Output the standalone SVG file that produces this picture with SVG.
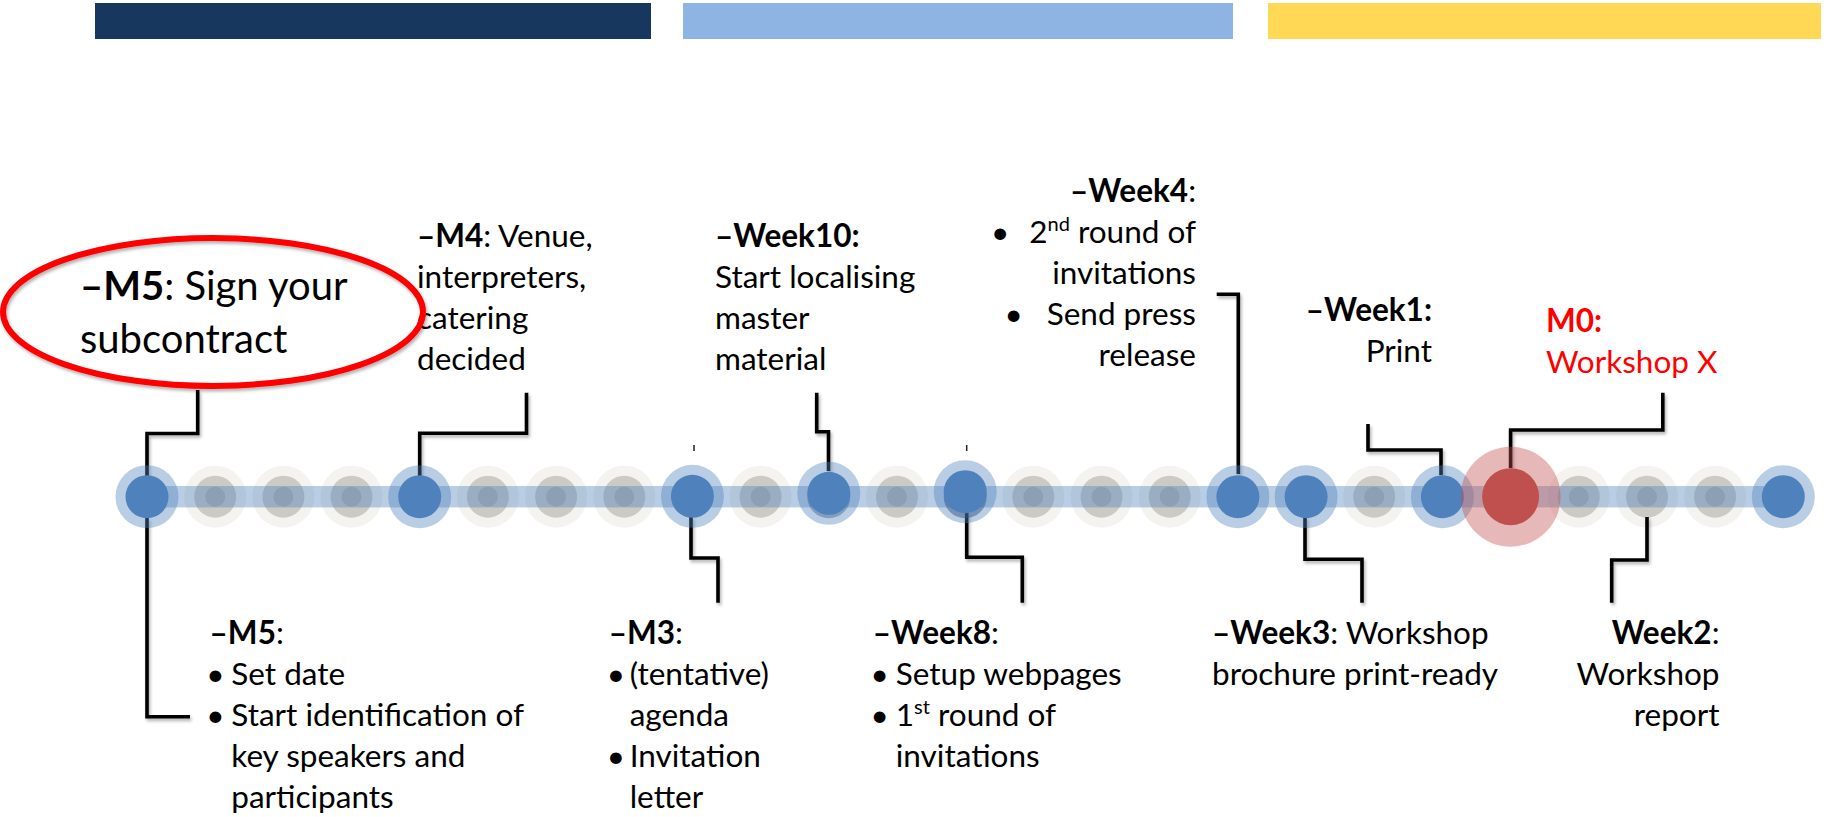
<svg xmlns="http://www.w3.org/2000/svg" width="1824" height="817" viewBox="0 0 1824 817">
  <defs>
    <filter id="soft" x="-20%" y="-20%" width="140%" height="140%">
      <feDropShadow dx="1.5" dy="2.5" stdDeviation="1.6" flood-color="#000" flood-opacity="0.3"/>
    </filter>
    <!-- inactive step on the track -->
    <g id="gdot">
      <circle r="31" fill="#f4f3ef"/>
      <circle r="21" fill="#cccac5"/>
      <circle r="10" fill="#b4b2ad"/>
    </g>
    <!-- milestone dot -->
    <g id="bdot">
      <circle r="31.5" fill="#4f81bd" fill-opacity="0.4"/>
      <circle r="21.5" fill="#4f81bd"/>
    </g>
  </defs>
  <style>
    text { font-family: Lato, "Liberation Sans", sans-serif; font-size: 31.5px; fill: #000; }
    .b { font-weight: 700; }
    .big { font-size: 40px; }
    .red { fill: #ff0000; }
    .end { text-anchor: end; }
    .bul { text-anchor: middle; }
    .sup { font-size: 20px; }
    .wire { fill: none; stroke: #000; stroke-width: 3.6; stroke-linecap: butt; stroke-linejoin: miter; }
    .tick { stroke: #222; stroke-width: 1.5; }
  </style>

  <rect width="1824" height="817" fill="#ffffff"/>

  <!-- phase bars -->
  <g id="phase-bars">
    <rect x="95" y="3" width="556" height="36" fill="#17375e"/>
    <rect x="683" y="3" width="550" height="36" fill="#8eb4e3"/>
    <rect x="1268" y="3" width="553" height="36" fill="#ffd955"/>
  </g>

  <!-- track: inactive steps and the band -->
  <g id="track">
    <use href="#gdot" x="215.2" y="496.7"/>
    <use href="#gdot" x="283.4" y="496.7"/>
    <use href="#gdot" x="351.5" y="496.7"/>
    <use href="#gdot" x="487.9" y="496.7"/>
    <use href="#gdot" x="556.1" y="496.7"/>
    <use href="#gdot" x="624.3" y="496.7"/>
    <use href="#gdot" x="760.6" y="496.7"/>
    <use href="#gdot" x="897" y="496.7"/>
    <use href="#gdot" x="1033.3" y="496.7"/>
    <use href="#gdot" x="1101.5" y="496.7"/>
    <use href="#gdot" x="1169.7" y="496.7"/>
    <use href="#gdot" x="1374.2" y="496.7"/>
    <use href="#gdot" x="1578.8" y="496.7"/>
    <use href="#gdot" x="1647" y="496.7"/>
    <use href="#gdot" x="1715.1" y="496.7"/>
    <rect x="147" y="486" width="1636" height="21.4" fill="#4f81bd" fill-opacity="0.4"/>
  </g>

  <!-- connectors -->
  <g id="connectors" filter="url(#soft)">
    <path class="wire" d="M197.7,390 V433.5 H147 V476"/>
    <path class="wire" d="M147,518 V716.7 H190"/>
    <path class="wire" d="M526.5,392.7 V433.3 H419.7 V476"/>
    <path class="wire" d="M691,517 V558 H718 V602.7"/>
    <path class="wire" d="M816.7,392.7 V431.7 H828.5 V471"/>
    <path class="wire" d="M966.7,513 V557.3 H1022.3 V602.7"/>
    <path class="wire" d="M1216.7,294.3 H1238.3 V474"/>
    <path class="wire" d="M1305,517 V559.3 H1362 V602.7"/>
    <path class="wire" d="M1368,424 V450 H1441 V475"/>
    <path class="wire" d="M1662.8,392.7 V430 H1510.6 V468"/>
    <path class="wire" d="M1647,517 V560 H1611.7 V602.7"/>
  </g>

  <g id="tick-marks">
    <line class="tick" x1="694" y1="445" x2="694" y2="451"/>
    <line class="tick" x1="966.7" y1="445" x2="966.7" y2="451"/>
  </g>

  <!-- milestones -->
  <g id="node-m5">
    <use href="#bdot" x="147" y="496.7"/>
    <text x="209.6" y="644"><tspan class="b">–M5</tspan>:</text>
    <text class="bul" x="215.5" y="685">•</text>
    <text x="231.3" y="685">Set date</text>
    <text class="bul" x="215.5" y="726">•</text>
    <text x="231.3" y="726">Start identification of</text>
    <text x="231.3" y="767">key speakers and</text>
    <text x="231.3" y="808">participants</text>
  </g>

  <g id="node-m4">
    <use href="#bdot" x="419.7" y="496.7"/>
    <text x="417" y="247"><tspan class="b">–M4</tspan>: Venue,</text>
    <text x="417" y="288">interpreters,</text>
    <text x="417" y="329">catering</text>
    <text x="417" y="370">decided</text>
  </g>

  <g id="node-m3">
    <use href="#bdot" x="692.4" y="496.3"/>
    <text x="608.7" y="644"><tspan class="b">–M3</tspan>:</text>
    <text class="bul" x="615.8" y="685">•</text>
    <text x="629.7" y="685">(tentative)</text>
    <text x="629.7" y="726">agenda</text>
    <text class="bul" x="615.8" y="767">•</text>
    <text x="629.7" y="767">Invitation</text>
    <text x="629.7" y="808">letter</text>
  </g>

  <g id="node-week10">
    <circle cx="828.8" cy="496.7" r="21.5" fill="#1f3a5f" fill-opacity="0.4"/>
    <use href="#bdot" x="828.8" y="493.3"/>
    <text class="b" x="715" y="247">–Week10:</text>
    <text x="715" y="288">Start localising</text>
    <text x="715" y="329">master</text>
    <text x="715" y="370">material</text>
  </g>

  <g id="node-week8">
    <circle cx="965.2" cy="496.7" r="21.5" fill="#1f3a5f" fill-opacity="0.5"/>
    <use href="#bdot" x="965.2" y="491.7"/>
    <text x="872.8" y="644"><tspan class="b">–Week8</tspan>:</text>
    <text class="bul" x="879.6" y="685">•</text>
    <text x="895.8" y="685">Setup webpages</text>
    <text class="bul" x="879.6" y="726">•</text>
    <text x="895.8" y="726">1<tspan class="sup" dy="-12">st</tspan><tspan dy="12"> round of</tspan></text>
    <text x="895.8" y="767">invitations</text>
  </g>

  <g id="node-week4">
    <use href="#bdot" x="1237.9" y="496.7"/>
    <text class="end" x="1196" y="202"><tspan class="b">–Week4</tspan>:</text>
    <text class="end" x="1196" y="243">•<tspan dx="20">2</tspan><tspan class="sup" dy="-12">nd</tspan><tspan dy="12"> round of</tspan></text>
    <text class="end" x="1196" y="284">invitations</text>
    <text class="end" x="1196" y="325">•<tspan dx="24">Send press</tspan></text>
    <text class="end" x="1196" y="366">release</text>
  </g>

  <g id="node-week3">
    <use href="#bdot" x="1306.1" y="496.7"/>
    <text x="1212" y="644"><tspan class="b">–Week3</tspan>: Workshop</text>
    <text x="1212" y="685">brochure print-ready</text>
  </g>

  <g id="node-week1">
    <use href="#bdot" x="1442.4" y="496.7"/>
    <text class="end b" x="1432" y="321">–Week1:</text>
    <text class="end" x="1432" y="362">Print</text>
  </g>

  <g id="node-m0">
    <circle cx="1510.6" cy="496.7" r="50" fill="#c0504d" fill-opacity="0.4"/>
    <circle cx="1510.6" cy="496.7" r="28.5" fill="#c0504d"/>
    <text class="b red" x="1546" y="332">M0:</text>
    <text class="red" x="1546" y="373">Workshop X</text>
  </g>

  <g id="node-week2">
    <text class="end" x="1719.5" y="644"><tspan class="b">Week2</tspan>:</text>
    <text class="end" x="1719.5" y="685">Workshop</text>
    <text class="end" x="1719.5" y="726">report</text>
  </g>

  <g id="node-end">
    <use href="#bdot" x="1783.3" y="496.7"/>
  </g>

  <!-- highlighted first step -->
  <g id="node-m5-callout">
    <ellipse cx="213" cy="312" rx="210" ry="74" fill="none" stroke="#ff0000" stroke-width="6" filter="url(#soft)"/>
    <text class="big" x="80" y="300"><tspan class="b">–M5</tspan>: Sign your</text>
    <text class="big" x="80" y="353">subcontract</text>
  </g>
</svg>
